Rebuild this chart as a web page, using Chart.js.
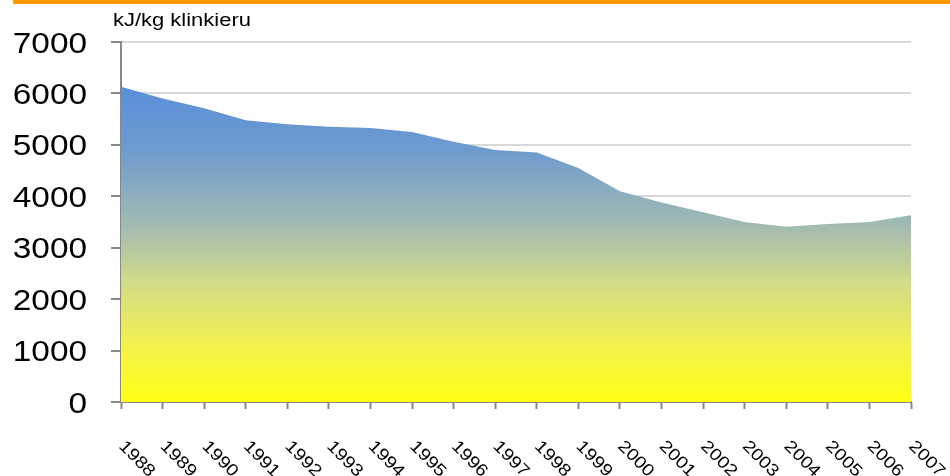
<!DOCTYPE html>
<html>
<head>
<meta charset="utf-8">
<script src="https://cdn.jsdelivr.net/npm/chart.js@4"></script>
<style>
  html, body { margin: 0; padding: 0; background: #fff; }
  canvas { display: block; }
</style>
</head>
<body>
<canvas id="chart" width="950" height="476"></canvas>
<script>
const years = ['1988', '1989', '1990', '1991', '1992', '1993', '1994', '1995', '1996', '1997',
               '1998', '1999', '2000', '2001', '2002', '2003', '2004', '2005', '2006', '2007'];
const energy = [6130, 5900, 5710, 5480, 5400, 5350, 5330, 5250, 5060, 4900,
                4850, 4550, 4100, 3880, 3690, 3500, 3410, 3460, 3500, 3630];
const yMin = 0;
const yMax = 7000;
const yStep = 1000;
const unitLabel = 'kJ/kg klinkieru';

const FONT = '"Liberation Sans", Arial, sans-serif';

// gradient blue -> grey-green -> yellow, from the top of the area down to 0
const areaFill = (context) => {
    const { chart } = context;
    const { ctx, chartArea, scales } = chart;
    if (!chartArea) return '#FFFF14';
    const top = scales.y.getPixelForValue(Math.max(...energy));
    const g = ctx.createLinearGradient(0, top, 0, chartArea.bottom);
    g.addColorStop(0, '#5A8FD9');
    g.addColorStop(0.2, '#6E9BCF');
    g.addColorStop(0.45, '#A4BCB0');
    g.addColorStop(0.62, '#D2DB88');
    g.addColorStop(0.82, '#F3F24E');
    g.addColorStop(1, '#FFFF14');
    return g;
};

const decor = {
    id: 'decor',
    beforeDraw(chart) {
        const ctx = chart.ctx;
        ctx.save();
        ctx.fillStyle = '#FF9900';
        ctx.fillRect(13, 0, chart.width - 13, 4);
        ctx.restore();
    },
    afterDraw(chart) {
        const ctx = chart.ctx;
        const x = chart.scales.x;
        const y = chart.scales.y;
        ctx.save();
        ctx.fillStyle = '#000';

        // unit label
        ctx.save();
        ctx.font = '18px ' + FONT;
        ctx.textAlign = 'left';
        ctx.textBaseline = 'alphabetic';
        ctx.translate(113, 26);
        ctx.scale(1.22, 1);
        ctx.fillText(unitLabel, 0, 0);
        ctx.restore();

        // y labels
        ctx.font = '29px ' + FONT;
        ctx.textAlign = 'right';
        ctx.textBaseline = 'alphabetic';
        y.ticks.forEach(t => {
            ctx.save();
            ctx.translate(87, y.getPixelForValue(t.value) + 10.5);
            ctx.scale(1.15, 1);
            ctx.fillText(String(t.value), 0, 0);
            ctx.restore();
        });

        // x labels, rotated down-right
        ctx.font = '17px ' + FONT;
        ctx.textAlign = 'left';
        years.forEach((yr, i) => {
            ctx.save();
            ctx.translate(x.getPixelForValue(i) - 3, 447);
            ctx.rotate(Math.PI / 4);
            ctx.scale(1.15, 1);
            ctx.fillText(yr, 0, 0);
            ctx.restore();
        });
        ctx.restore();
    }
};

new Chart(document.getElementById('chart').getContext('2d'), {
    type: 'line',
    data: {
        labels: years,
        datasets: [{
            data: energy,
            fill: 'origin',
            backgroundColor: areaFill,
            borderWidth: 0,
            borderColor: 'rgba(0,0,0,0)',
            pointRadius: 0,
            tension: 0,
        }]
    },
    options: {
        responsive: false,
        animation: false,
        layout: { padding: { top: 42, right: 39, left: 0, bottom: 0 } },
        plugins: {
            legend: { display: false },
            tooltip: { enabled: false },
        },
        scales: {
            x: {
                offset: false,
                afterFit: s => { s.height = 74; },
                ticks: { display: false },
                grid: {
                    drawOnChartArea: false,
                    drawTicks: true,
                    tickLength: 7,
                    tickColor: '#888888',
                    tickWidth: 2,
                },
                border: { color: '#888888', width: 2 },
            },
            y: {
                min: yMin,
                max: yMax,
                afterFit: s => { s.width = 121; },
                ticks: { display: false, stepSize: yStep },
                grid: {
                    color: '#D9D9D9',
                    lineWidth: 2,
                    drawTicks: true,
                    tickLength: 10,
                    tickColor: '#888888',
                    tickWidth: 2,
                },
                border: { color: '#888888', width: 2 },
            }
        }
    },
    plugins: [decor]
});
</script>
</body>
</html>
